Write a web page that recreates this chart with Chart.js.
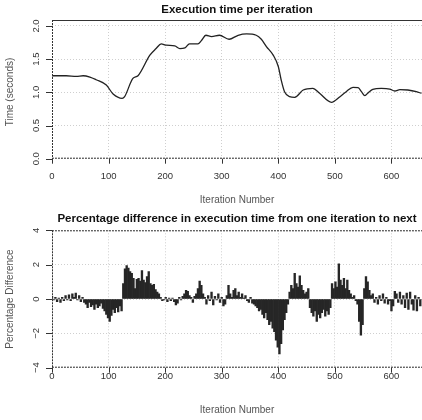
<!DOCTYPE html>
<html>
<head>
<meta charset="utf-8">
<script src="https://cdn.jsdelivr.net/npm/chart.js@4/dist/chart.umd.min.js"></script>
<style>
    html, body { margin: 0; padding: 0; background: #fff; }
    #wrap { position: relative; width: 422px; height: 420px; }
    .panel { position: absolute; left: 0; width: 422px; }
</style>
</head>
<body>
<div id="wrap">
    <div class="panel" style="top:0;height:209px"><canvas id="timeChart" width="422" height="209"></canvas></div>
    <div class="panel" style="top:209px;height:211px"><canvas id="diffChart" width="422" height="211"></canvas></div>
</div>
<script>
// x axis
const xTicks = [0, 100, 200, 300, 400, 500, 600];

// top panel: execution time (seconds)
const timeIters = [0, 25, 43, 55, 67, 78, 96, 108, 124, 128,
    143, 152, 173, 184, 193, 202, 217, 226, 235, 243,
    258, 264, 272, 282, 296, 313, 329, 344, 361, 370,
    379, 391, 400, 405, 411, 420, 429, 444, 461, 473,
    494, 509, 520, 532, 541, 547, 553, 559, 567, 582,
    597, 606, 615, 629, 644, 653];
const timeValues = [1.25, 1.25, 1.24, 1.25, 1.23, 1.19, 1.11, 0.975, 0.91, 0.93,
    1.21, 1.25, 1.56, 1.66, 1.73, 1.71, 1.70, 1.66, 1.67, 1.73,
    1.73, 1.78, 1.86, 1.84, 1.86, 1.80, 1.86, 1.88, 1.86, 1.80,
    1.69, 1.56, 1.39, 1.19, 1.01, 0.935, 0.925, 1.035, 1.06, 0.985,
    0.85, 0.935, 1.01, 1.075, 1.07, 1.01, 0.95, 0.995, 1.045, 1.06,
    1.05, 1.02, 1.04, 1.035, 1.01, 0.985];
const timeTicks = [0, 0.5, 1, 1.5, 2];

// bottom panel: percentage difference, one value every 3 iterations
const diffStep = 3;
const diffValues = [
    0.15, -0.05, 0.1, -0.15, 0.05, -0.2, 0.1, -0.1, 0.2, -0.05,
    0.25, -0.1, 0.3, 0.1, 0.35, -0.05, 0.2, -0.15, 0.1, -0.2,
    -0.3, -0.5, -0.2, -0.45, -0.35, -0.6, -0.3, -0.5, -0.4, -0.25,
    -0.55, -0.7, -0.9, -1.1, -1.3, -0.95, -0.6, -0.8, -0.5, -0.75,
    -0.4, -0.7, 0.9, 1.75, 1.95, 1.8, 1.6, 1.5, 1.2, 0.6,
    1.15, 1.2, 1.05, 1.65, 1.1, 0.95, 1.3, 1.6, 0.9, 0.8,
    0.85, 0.55, 0.4, 0.3, 0.1, -0.1, -0.05, 0.1, -0.15, 0.05,
    -0.1, 0.05, -0.15, -0.35, -0.25, 0.1, -0.05, 0.15, 0.3, 0.5,
    0.45, 0.2, 0.1, -0.2, 0.15, 0.3, 0.6, 1.05, 0.8, 0.3,
    0.1, -0.3, 0.2, -0.1, 0.4, -0.35, 0.15, -0.05, 0.3, -0.2,
    0.1, -0.4, -0.3, 0.2, 0.8, 0.3, 0.1, 0.5, 0.6, 0.2,
    0.4, 0.1, 0.3, 0.05, 0.2, -0.1, -0.2, 0.1, -0.25, -0.3,
    -0.4, -0.5, -0.7, -0.6, -0.9, -1.1, -0.8, -1.2, -1.5, -1.3,
    -1.7, -1.9, -2.4, -2.8, -3.2, -2.6, -1.8, -1.2, -0.8, -0.3,
    0.4, 0.8, 0.6, 1.5, 0.9, 0.7, 1.35, 0.8, 0.5, 0.3,
    0.4, 0.6, -0.5, -0.8, -1.0, -0.7, -1.3, -0.9, -1.1, -0.8,
    -0.6, -1.0, -0.7, -0.9, -0.5, 0.9, 0.6, 1.0, 0.7, 2.05,
    1.1, 0.8, 1.2, 0.6, 1.1, 0.5, 0.3, 0.1, 0.2, -0.1,
    -0.3, -1.3, -2.1, -1.5, 0.6, 1.3, 1.0, 0.5, 0.2, 0.3,
    -0.2, 0.1, -0.3, 0.2, -0.1, 0.3, -0.25, 0.1, -0.3, -0.1,
    -0.7, -0.4, 0.45, 0.3, -0.2, 0.4, -0.3, 0.2, -0.5, 0.35,
    -0.6, 0.4, -0.3, -0.65, 0.2, -0.7, 0.1, -0.4
];
const diffTicks = [-4, -2, 0, 2, 4];

const FONT = '"Liberation Sans", Arial, Helvetica, sans-serif';

// R-like frame, tick marks and all the text
const rFrame = {
    id: 'rFrame',
    afterDraw(chart, args, o) {
        const { ctx, chartArea: a, scales: { x, y } } = chart;
        const line = (x1, y1, x2, y2, dash) => {
            ctx.setLineDash(dash);
            ctx.beginPath();
            ctx.moveTo(x1, y1);
            ctx.lineTo(x2, y2);
            ctx.stroke();
        };
        ctx.save();
        ctx.strokeStyle = '#333';
        ctx.lineWidth = 1;
        line(a.left, a.top + 0.5, a.right, a.top + 0.5, o.topDash);
        line(a.left + 0.5, a.top, a.left + 0.5, a.bottom, [2, 1]);
        line(a.left, a.bottom - 0.5, a.right, a.bottom - 0.5, [2, 1]);

        xTicks.forEach(v => {
            const px = Math.round(x.getPixelForValue(v)) + 0.5;
            line(px, a.bottom, px, a.bottom + 5, []);
        });
        o.yTicks.forEach(v => {
            const py = Math.round(y.getPixelForValue(v)) + 0.5;
            line(a.left - 6, py, a.left, py, []);
        });

        const cx = (a.left + a.right) / 2;
        ctx.textAlign = 'center';
        ctx.textBaseline = 'middle';
        ctx.fillStyle = '#111';
        ctx.font = 'bold 11.5px ' + FONT;
        ctx.fillText(o.title, cx, o.titleY);

        ctx.fillStyle = '#333';
        ctx.font = '9.5px ' + FONT;
        xTicks.forEach(v => ctx.fillText(String(v), x.getPixelForValue(v), o.xLabelY));

        ctx.fillStyle = '#555';
        ctx.font = '10px ' + FONT;
        ctx.fillText('Iteration Number', cx, o.xTitleY);

        ctx.fillStyle = '#333';
        ctx.font = '9.5px ' + FONT;
        o.yTicks.forEach(v => {
            ctx.save();
            ctx.translate(36, y.getPixelForValue(v));
            ctx.rotate(-Math.PI / 2);
            ctx.fillText(o.yFormat(v), 0, 0);
            ctx.restore();
        });

        ctx.fillStyle = '#555';
        ctx.font = '10px ' + FONT;
        ctx.save();
        ctx.translate(10, o.yTitleY);
        ctx.rotate(-Math.PI / 2);
        ctx.fillText(o.yTitle, 0, 0);
        ctx.restore();

        ctx.restore();
    }
};

function scaleOpts(min, max, ticks) {
    return {
        type: 'linear',
        min: min,
        max: max,
        offset: false,
        afterBuildTicks: (scale) => { scale.ticks = ticks.map(v => ({ value: v })); },
        ticks: { display: false },
        grid: {
            color: '#cfcfcf',
            lineWidth: 1,
            drawTicks: false,
            offset: false,
        },
        border: { display: false, dash: [1, 2] },
    };
}

new Chart(document.getElementById('timeChart'), {
    type: 'line',
    data: {
        datasets: [{
            data: timeIters.map((it, i) => ({ x: it, y: timeValues[i] })),
            borderColor: '#222',
            borderWidth: 1.3,
            pointRadius: 0,
            cubicInterpolationMode: 'monotone',
            fill: false,
        }]
    },
    options: {
        responsive: false,
        animation: false,
        events: [],
        layout: { padding: { left: 52, top: 20, right: 0, bottom: 50.3 } },
        scales: {
            x: scaleOpts(0, 654, xTicks),
            y: scaleOpts(0, 2.09, timeTicks),
        },
        plugins: {
            legend: { display: false },
            tooltip: { enabled: false },
            rFrame: {
                title: 'Execution time per iteration',
                titleY: 10,
                xLabelY: 176.7,
                xTitleY: 200,
                yTicks: timeTicks,
                yFormat: v => v.toFixed(1),
                yTitle: 'Time (seconds)',
                yTitleY: 92,
                topDash: [],
            }
        }
    },
    plugins: [rFrame]
});

new Chart(document.getElementById('diffChart'), {
    type: 'bar',
    data: {
        datasets: [{
            data: diffValues.map((v, i) => ({ x: i * diffStep, y: v })),
            backgroundColor: '#262626',
            borderWidth: 0,
            barPercentage: 1,
            categoryPercentage: 1,
        }]
    },
    options: {
        responsive: false,
        animation: false,
        events: [],
        layout: { padding: { left: 52, top: 21.3, right: 0, bottom: 52.3 } },
        scales: {
            x: scaleOpts(0, 654, xTicks),
            y: scaleOpts(-4, 4, diffTicks),
        },
        plugins: {
            legend: { display: false },
            tooltip: { enabled: false },
            rFrame: {
                title: 'Percentage difference in execution time from one iteration to next',
                titleY: 10,
                xLabelY: 167.7,
                xTitleY: 201.7,
                yTicks: diffTicks,
                yFormat: v => String(v).replace('-', '\u2212'),
                yTitle: 'Percentage Difference',
                yTitleY: 90,
                topDash: [2, 1],
            }
        }
    },
    plugins: [rFrame]
});
</script>
</body>
</html>
